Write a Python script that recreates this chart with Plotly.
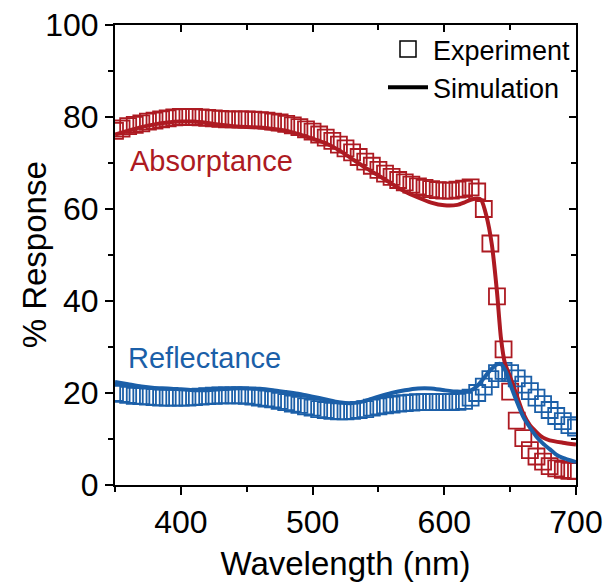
import plotly.graph_objects as go

# ---------------- data ----------------
exp_wl = list(range(350, 705, 5))

abs_exp = [77.0, 77.5, 78.0, 78.3, 78.6, 79.0, 79.2, 79.5, 79.7, 79.9,
           80.0, 80.0, 80.0, 79.9, 79.8, 79.7, 79.6, 79.5, 79.5, 79.5,
           79.5, 79.4, 79.3, 79.2, 79.0, 78.8, 78.5, 78.2, 77.8, 77.3,
           76.8, 76.2, 75.5, 74.8, 74.0, 73.2, 72.3, 71.3, 70.3, 69.4,
           68.5, 67.7, 67.0, 66.3, 65.8, 65.3, 64.9, 64.6, 64.3, 64.1,
           64.0, 64.0, 64.2, 64.4, 64.7, 63.8, 60.0, 52.5, 41.0, 29.5,
           20.3, 14.0, 10.2, 7.6, 6.2, 5.1, 4.1, 3.6, 3.3, 3.1, 3.0]

ref_exp = [20.0, 19.8, 19.6, 19.4, 19.3, 19.2, 19.1, 19.0, 19.0, 19.0,
           19.0, 19.0, 19.1, 19.2, 19.3, 19.4, 19.5, 19.5, 19.5, 19.5,
           19.4, 19.2, 19.0, 18.8, 18.6, 18.3, 18.0, 17.7, 17.4, 17.1,
           16.8, 16.5, 16.3, 16.1, 16.0, 16.0, 16.1, 16.3, 16.5, 16.8,
           17.1, 17.3, 17.5, 17.7, 17.8, 17.9, 18.0, 18.0, 18.0, 18.0,
           18.0, 18.0, 18.1, 18.3, 19.0, 20.0, 21.4, 23.0, 24.3, 24.8,
           24.3, 23.2, 21.8, 20.4, 19.0, 17.6, 16.3, 15.0, 13.9, 13.0, 12.5]

abs_sim_wl = [350, 360, 370, 380, 390, 400, 410, 420, 430, 440, 450, 460, 470,
              480, 490, 500, 510, 520, 530, 540, 550, 560, 570, 580, 590, 600,
              610, 615, 620, 625, 628, 632, 636, 640, 643, 646, 650, 655, 660,
              665, 670, 675, 680, 690, 700]
abs_sim = [76.2, 77.0, 77.8, 78.4, 78.8, 79.0, 79.0, 78.7, 78.3, 78.0, 77.8,
           77.7, 77.4, 77.0, 76.2, 75.3, 74.3, 72.8, 70.9, 69.0, 67.3, 65.5,
           63.8, 62.5, 61.4, 60.8, 60.9, 61.4, 62.0, 62.3, 62.0, 58.5, 52.5,
           42.0, 32.0, 26.5, 23.5, 19.5, 15.5, 13.0, 11.5, 10.3, 9.7, 9.2, 8.8]

ref_sim_wl = [350, 360, 370, 380, 390, 400, 410, 420, 430, 440, 450, 460, 470,
              480, 490, 500, 510, 520, 530, 540, 550, 560, 570, 580, 590, 600,
              610, 620, 625, 630, 635, 640, 643, 647, 650, 655, 660, 665, 670,
              675, 680, 685, 690, 700]
ref_sim = [22.4, 21.9, 21.4, 21.1, 21.0, 20.8, 20.6, 20.6, 20.8, 21.0, 21.0,
           20.9, 20.6, 20.2, 19.8, 19.2, 18.6, 18.0, 17.8, 18.3, 19.2, 20.0,
           20.6, 21.0, 21.0, 20.6, 20.3, 20.5, 21.5, 23.2, 25.0, 26.2, 26.3,
           24.5, 22.0, 18.2, 14.8, 12.5, 10.5, 9.0, 7.8, 6.6, 5.9, 5.0]

x_range = [350, 700]
y_range = [0, 100]

RED = "#AD1A22"
BLUE = "#1B5FA8"
FONT = "Liberation Sans, Arial, sans-serif"

fig = go.Figure()

fig.add_trace(go.Scatter(x=exp_wl, y=abs_exp, mode="markers", showlegend=False,
                         marker=dict(symbol="square-open", size=16, color=RED,
                                     line=dict(width=1.8, color=RED))))
fig.add_trace(go.Scatter(x=exp_wl, y=ref_exp, mode="markers", showlegend=False,
                         marker=dict(symbol="square-open", size=16, color=BLUE,
                                     line=dict(width=1.8, color=BLUE))))
fig.add_trace(go.Scatter(x=abs_sim_wl, y=abs_sim, mode="lines", showlegend=False,
                         line=dict(color=RED, width=4, shape="spline", smoothing=0.6)))
fig.add_trace(go.Scatter(x=ref_sim_wl, y=ref_sim, mode="lines", showlegend=False,
                         line=dict(color=BLUE, width=4, shape="spline", smoothing=0.6)))

# legend entries
fig.add_trace(go.Scatter(x=[None], y=[None], mode="markers", name="Experiment",
                         marker=dict(symbol="square-open", size=16, color="black",
                                     line=dict(width=1.5, color="black"))))
fig.add_trace(go.Scatter(x=[None], y=[None], mode="lines", name="Simulation",
                         line=dict(color="black", width=4)))

# dummy trace for mirror axes (top / right, inward ticks)
fig.add_trace(go.Scatter(x=x_range, y=y_range, mode="markers", xaxis="x2", yaxis="y2",
                         marker=dict(opacity=0), showlegend=False, hoverinfo="skip"))

fig.add_annotation(x=423, y=70.5, text="Absorptance", showarrow=False,
                   font=dict(family=FONT, size=29, color=RED))
fig.add_annotation(x=418, y=27.6, text="Reflectance", showarrow=False,
                   font=dict(family=FONT, size=29, color=BLUE))
# y-axis title
fig.add_annotation(xref="paper", yref="paper", x=-0.175, y=0.5, xanchor="center",
                   yanchor="middle", text="% Response", textangle=-90, showarrow=False,
                   font=dict(family=FONT, size=33, color="black"))

fig.update_layout(
    width=609, height=588,
    margin=dict(l=115, r=33, t=25, b=103, autoexpand=False),
    paper_bgcolor="white", plot_bgcolor="white",
    font=dict(family=FONT, color="black"),
    legend=dict(x=1.0, xanchor="right", y=1.0, yanchor="top",
                bgcolor="rgba(0,0,0,0)", font=dict(size=27, family=FONT),
                tracegroupgap=0, itemwidth=40),
    xaxis=dict(range=x_range, showgrid=False, zeroline=False, automargin=False,
               showline=True, linecolor="black", linewidth=2,
               ticks="outside", ticklen=8, tickwidth=2, tickcolor="black",
               tick0=400, dtick=100,
               minor=dict(ticks="outside", ticklen=5, tickwidth=2, dtick=50,
                          tick0=350, tickcolor="black", showgrid=False),
               tickfont=dict(size=32, family=FONT),
               title=dict(text="Wavelength (nm)", font=dict(size=33, family=FONT),
                          standoff=12)),
    yaxis=dict(range=y_range, showgrid=False, zeroline=False, automargin=False,
               showline=True, linecolor="black", linewidth=2,
               ticks="outside", ticklen=8, tickwidth=2, tickcolor="black",
               tick0=0, dtick=20,
               minor=dict(ticks="outside", ticklen=5, tickwidth=2, dtick=10,
                          tickcolor="black", showgrid=False),
               tickfont=dict(size=32, family=FONT)),
    xaxis2=dict(range=x_range, overlaying="x", side="top", showgrid=False,
                zeroline=False, showline=True, linecolor="black", linewidth=2,
                automargin=False,
                ticks="inside", ticklen=7, tickwidth=2, tickcolor="black",
                tick0=400, dtick=100, showticklabels=False,
                minor=dict(ticks="inside", ticklen=5, tickwidth=2, dtick=50,
                           tick0=350, tickcolor="black", showgrid=False)),
    yaxis2=dict(range=y_range, overlaying="y", side="right", showgrid=False,
                zeroline=False, showline=True, linecolor="black", linewidth=2,
                automargin=False,
                ticks="inside", ticklen=7, tickwidth=2, tickcolor="black",
                tick0=0, dtick=20, showticklabels=False,
                minor=dict(ticks="inside", ticklen=5, tickwidth=2, dtick=10,
                           tickcolor="black", showgrid=False)),
)

fig.write_html("out.html")
